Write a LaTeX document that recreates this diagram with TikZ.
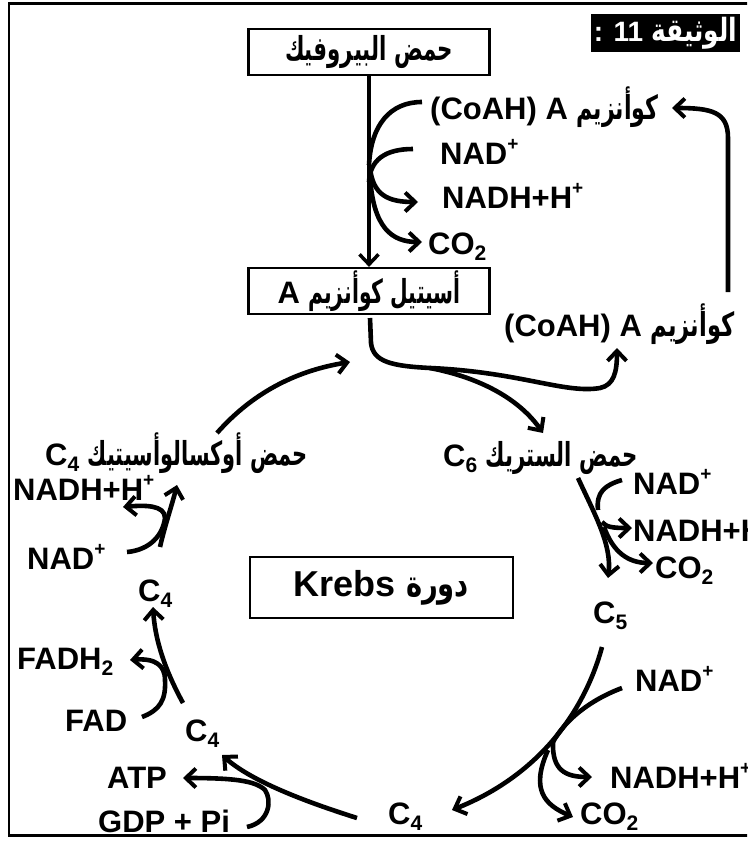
\documentclass[tikz,border=0pt]{standalone}
\usepackage{fontspec}
\usepackage{graphicx}
\setmainfont{Liberation Sans}
\newfontfamily\arfont[Script=Arabic]{DejaVu Sans}
\TeXXeTstate=1
\usetikzlibrary{arrows.meta}
\newcommand\lat{\fontsize{31}{31}\selectfont\bfseries}
\newcommand\subx[1]{\raisebox{-0.22em}{\fontsize{21}{21}\selectfont\bfseries #1}}
\newcommand\supx[1]{\raisebox{0.42em}{\fontsize{19}{19}\selectfont\bfseries #1}}
\newcommand\ar[2]{\resizebox{#1}{\height}{\arfont\bfseries\fontsize{33}{33}\selectfont #2}}
\tikzset{
  flw/.style={line width=4.6pt},
  arr/.style={line width=4.6pt,-{Straight Barb[length=10pt,width=19pt,line width=4pt]}},
  boxst/.style={draw,line width=2.2pt,inner sep=0pt,fill=white},
  lbl/.style={inner sep=0pt,anchor=base west,font=\lat},
}
\begin{document}
\begin{tikzpicture}[x=1pt,y=-1pt]
\useasboundingbox (0,0) rectangle (747,846);
\clip (0,0) rectangle (747,846);
% frame
\draw[line width=2.2pt] (9,3.5) rectangle (780,835.5);
% title
\node[fill=black,inner sep=0pt,minimum width=149pt,minimum height=38pt,text=white] (title) at (665.5,33)
  {\fontsize{28}{28}\selectfont\bfseries : 11 \resizebox{86pt}{\height}{\arfont\bfseries\fontsize{32}{32}\selectfont\beginR الوثيقة\endR}};
% boxes
\node[boxst,minimum width=241pt,minimum height=46pt] (pyr) at (369,52) {\ar{168pt}{\beginR حمض البيروفيك\endR}};
\node[boxst,minimum width=241pt,minimum height=46pt] (acet) at (369,291) {\lat A \ar{152pt}{\beginR أسيتيل كوأنزيم\endR}};
\node[boxst,minimum width=263pt,minimum height=61pt] (krebs) at (381.5,587.5) {\fontsize{36}{36}\selectfont\bfseries Krebs \resizebox{63pt}{\height}{\arfont\bfseries\fontsize{36}{36}\selectfont\beginR دورة\endR}};
% top labels
\node[lbl] (coa1) at (430,119) {(CoAH) A \ar{82pt}{\beginR كوأنزيم\endR}};
\node[lbl] (nad1) at (440,164) {NAD\supx{+}};
\node[lbl] (nadh1) at (442,208) {NADH+H\supx{+}};
\node[lbl] (co21) at (428,254) {CO\subx{2}};
\node[lbl] (coa2) at (504,336) {(CoAH) A \ar{84pt}{\beginR كوأنزيم\endR}};
% cycle labels
\node[lbl] (cit) at (443,466) {C\subx{6} \ar{152pt}{\beginR حمض الستريك\endR}};
\node[lbl] (nad2) at (633,494) {NAD\supx{+}};
\node[lbl] (nadh2) at (633,541) {NADH+H\supx{+}};
\node[lbl] (co22) at (655,578) {CO\subx{2}};
\node[lbl] (c5) at (593,623) {C\subx{5}};
\node[lbl] (nad3) at (635,691) {NAD\supx{+}};
\node[lbl] (nadh3) at (610,788) {NADH+H\supx{+}};
\node[lbl] (co23) at (580,824) {CO\subx{2}};
\node[lbl] (c4a) at (388,824) {C\subx{4}};
\node[lbl] (atp) at (107,788) {ATP};
\node[lbl] (gdp) at (98,832) {GDP + Pi};
\node[lbl] (c4b) at (185,741) {C\subx{4}};
\node[lbl] (fadh) at (17,669) {FADH\subx{2}};
\node[lbl] (fad) at (65,731) {FAD};
\node[lbl] (c4c) at (138,601) {C\subx{4}};
\node[lbl] (nad4) at (27,569) {NAD\supx{+}};
\node[lbl] (nadh4) at (13,500) {NADH+H\supx{+}};
\node[lbl] (oxa) at (45,465) {C\subx{4} \ar{220pt}{\beginR حمض أوكسالوأسيتيك\endR}};
% pyruvate -> acetyl
\draw[line width=3.5pt,-{Straight Barb[length=10pt,width=19pt,line width=3.5pt]}] (pyr.south) -- (acet.north);
\draw[flw] (422,102) .. controls (390,102) and (371,125) .. (369,165);
\draw[flw] (413,149) .. controls (385,149) and (370,160) .. (369,182);
\draw[arr] (370,168) .. controls (373,195) and (388,202) .. (418,202);
\draw[arr] (370,176) .. controls (373,228) and (392,242) .. (422,242);
% CoA return
\draw[arr] (728,292) -- (728,138) .. controls (728,112) and (712,108) .. (672,108);
% acetyl out
\coordinate (split) at (430,368);
\draw[flw] (370,318) -- (371,343) .. controls (373,362) and (392,366) .. (split);
\draw[arr] (split) .. controls (520,372) and (565,394) .. (600,388) .. controls (614,385) and (617,372) .. (617,348);
\draw[arr] (split) .. controls (482,378) and (520,400) .. (543,433);
% left arc
\draw[arr] (217,433) .. controls (255,390) and (300,370) .. (350,362);
% citric -> C5
\draw[arr] (578,478) .. controls (595,515) and (612,545) .. (608,578);
\draw[flw] (622,480) .. controls (605,485) and (596,492) .. (598,510);
\draw[arr] (602,522) .. controls (606,527) and (612,528) .. (632,528);
\draw[arr] (604,527) .. controls (613,552) and (628,563) .. (653,563);
% C5 -> C4
\draw[arr] (602,647) .. controls (585,710) and (540,775) .. (452,810);
\draw[flw] (622,688) .. controls (590,700) and (565,720) .. (553,742);
\draw[arr] (553,742) .. controls (552,770) and (565,777) .. (592,777);
\draw[arr] (548,750) .. controls (530,790) and (545,805) .. (573,817);
% C4 -> C4 (GDP)
\draw[arr] (357,818) .. controls (300,800) and (250,780) .. (222,755);
\draw[arr] (247,827) .. controls (270,822) and (272,800) .. (265,790) .. controls (255,780) and (230,778) .. (183,778);
% C4 -> C4 (FAD)
\draw[arr] (183,703) .. controls (165,670) and (155,640) .. (153,607);
\draw[arr] (142,717) .. controls (160,710) and (166,700) .. (165,680) .. controls (165,665) and (155,658) .. (130,660);
% C4 -> oxaloacetate
\draw[arr] (160,547) .. controls (165,525) and (172,505) .. (177,485);
\draw[arr] (127,552) .. controls (150,550) and (163,535) .. (165,518) .. controls (165,505) and (145,505) .. (123,507);
\end{tikzpicture}
\end{document}
